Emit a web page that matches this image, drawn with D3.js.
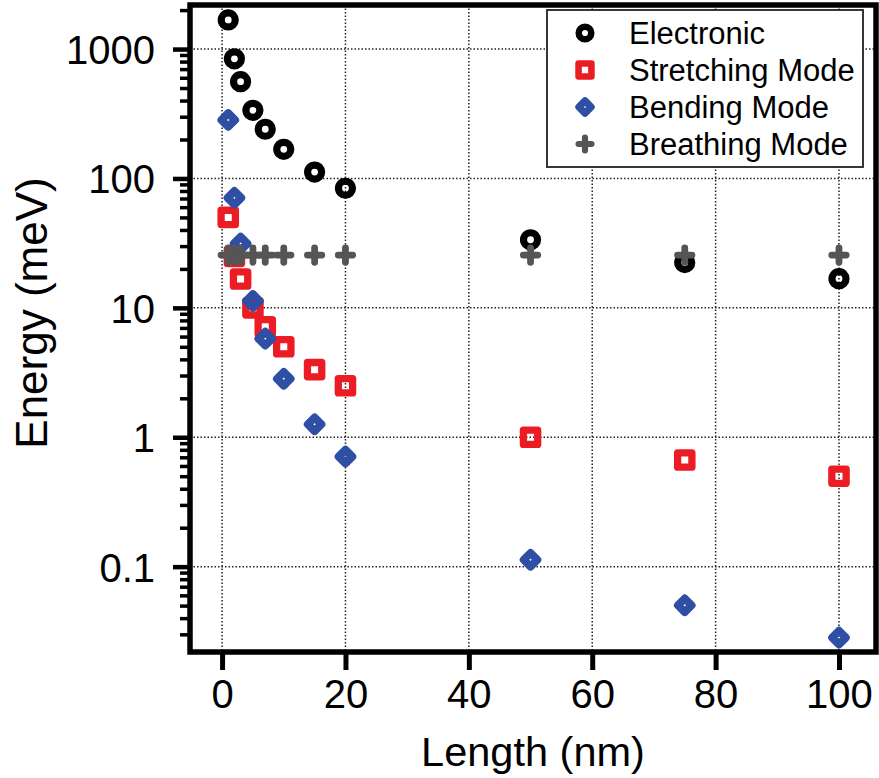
<!DOCTYPE html>
<html>
<head>
<meta charset="utf-8">
<script src="https://cdn.jsdelivr.net/npm/d3@7/dist/d3.min.js"></script>
<style>
  html, body { margin: 0; padding: 0; background: #fff; }
  svg { display: block; font-family: "Liberation Sans", Arial, sans-serif; }
</style>
</head>
<body>
<div id="chart"></div>
<script>
// lengths (nm) and energies (meV) for each mode
const lengths     = [1, 2, 3, 5, 7, 10, 15, 20, 50, 75, 100];
const electronic  = [1680, 840, 560, 336, 240, 168, 112, 84, 33.6, 22.4, 16.8];
const stretching  = [50, 25, 16.7, 10, 7.14, 5, 3.33, 2.5, 1, 0.667, 0.5];
const bending     = [283, 70.8, 31.4, 11.3, 5.78, 2.83, 1.26, 0.708, 0.113, 0.0503, 0.0283];
const breathing   = [25.6, 25.6, 25.6, 25.6, 25.6, 25.6, 25.6, 25.6, 25.6, 25.6, 25.6];

const seriesNames = ["Electronic", "Stretching Mode", "Bending Mode", "Breathing Mode"];
const xTicks = [0, 20, 40, 60, 80, 100];
const yTicks = [0.1, 1, 10, 100, 1000];
const yTickLabels = ["0.1", "1", "10", "100", "1000"];

const W = 879, H = 778;
const plotL = 190, plotR = 876, plotT = 5, plotB = 652;

const RED = "#ec1c24", BLUE = "#2f4fa5", GRAY = "#555555";

const svg = d3.select("#chart").append("svg")
    .attr("width", W)
    .attr("height", H);

const x = d3.scaleLinear().domain([-5.2, 106]).range([plotL, plotR]);
const y = d3.scaleLog().domain([0.0219, 2190]).range([plotB, plotT]);

// dotted grid
const grid = svg.append("g").attr("class", "grid");
grid.selectAll(".gx").data(xTicks).enter().append("line")
    .attr("x1", d => x(d)).attr("x2", d => x(d))
    .attr("y1", plotT).attr("y2", plotB);
grid.selectAll(".gy").data(yTicks).enter().append("line")
    .attr("x1", plotL).attr("x2", plotR)
    .attr("y1", d => y(d)).attr("y2", d => y(d));
grid.selectAll("line")
    .attr("stroke", "#222")
    .attr("stroke-width", 1.5)
    .attr("stroke-dasharray", "1.5,2");

// minor ticks on the log axis
let minors = [];
for (let p = -2; p <= 3; p++) {
    for (let m = 2; m <= 9; m++) {
        const v = m * Math.pow(10, p);
        if (v > y.domain()[0] && v < y.domain()[1]) minors.push(v);
    }
}

const yMinor = d3.axisLeft(y).tickValues(minors).tickSize(10).tickFormat("");
svg.append("g")
    .attr("transform", "translate(" + plotL + ",0)")
    .call(yMinor)
    .call(g => g.select(".domain").remove())
    .call(g => g.selectAll("line").attr("stroke", "#000").attr("stroke-width", 3.5));

const yAxis = d3.axisLeft(y)
    .tickValues(yTicks)
    .tickSize(17)
    .tickPadding(18)
    .tickFormat((d, i) => yTickLabels[i]);
svg.append("g")
    .attr("transform", "translate(" + plotL + ",0)")
    .call(yAxis)
    .call(g => g.select(".domain").remove())
    .call(g => g.selectAll("line").attr("stroke", "#000").attr("stroke-width", 4.5))
    .call(g => g.selectAll("text")
        .attr("fill", "#000")
        .style("font-size", "40px")
        .attr("dy", "0.36em"));

const xAxis = d3.axisBottom(x)
    .tickValues(xTicks)
    .tickSize(18)
    .tickPadding(10)
    .tickFormat(d3.format("d"));
svg.append("g")
    .attr("transform", "translate(0," + plotB + ")")
    .call(xAxis)
    .call(g => g.select(".domain").remove())
    .call(g => g.selectAll("line").attr("stroke", "#000").attr("stroke-width", 5))
    .call(g => g.selectAll("text")
        .attr("fill", "#000")
        .style("font-size", "40px")
        .attr("dy", "0.71em"));

// frame
svg.append("rect")
    .attr("x", plotL).attr("y", plotT)
    .attr("width", plotR - plotL).attr("height", plotB - plotT)
    .attr("fill", "none")
    .attr("stroke", "#000")
    .attr("stroke-width", 5.5);

// marker drawers
function drawCircle(g, s) {
    g.append("circle").attr("r", 7 * s)
        .attr("fill", "none").attr("stroke", "#000").attr("stroke-width", 7.2 * s);
}
function drawSquare(g, s) {
    const a = 14.3 * s;
    g.append("rect").attr("x", -a / 2).attr("y", -a / 2).attr("width", a).attr("height", a)
        .attr("fill", "none").attr("stroke", RED).attr("stroke-width", 7.3 * s)
        .attr("stroke-linejoin", "round");
}
function drawDiamond(g, s) {
    const d = 6.8 * s;
    g.append("path").attr("d", "M0," + (-d) + "L" + d + ",0L0," + d + "L" + (-d) + ",0Z")
        .attr("fill", "none").attr("stroke", BLUE).attr("stroke-width", 8 * s)
        .attr("stroke-linejoin", "round");
}
function drawPlus(g, s) {
    const a = 7.2 * s;
    g.append("path").attr("d", "M" + (-a) + ",0H" + a + "M0," + (-a) + "V" + a)
        .attr("fill", "none").attr("stroke", GRAY).attr("stroke-width", 6.8 * s)
        .attr("stroke-linecap", "round");
}

const series = [
    { name: seriesNames[0], values: electronic, draw: drawCircle },
    { name: seriesNames[1], values: stretching, draw: drawSquare },
    { name: seriesNames[2], values: bending, draw: drawDiamond },
    { name: seriesNames[3], values: breathing, draw: drawPlus }
];

const plot = svg.append("g").attr("class", "points");
series.forEach(function (s) {
    plot.append("g")
        .selectAll("g")
        .data(s.values.map((v, i) => ({ len: lengths[i], e: v })))
        .enter()
        .append("g")
        .attr("transform", d => "translate(" + x(d.len) + "," + y(d.e) + ")")
        .each(function () { s.draw(d3.select(this), 1); });
});

// legend
const legend = svg.append("g").attr("class", "legend");
legend.append("rect")
    .attr("x", 547).attr("y", 10)
    .attr("width", 316).attr("height", 157)
    .attr("fill", "#fff")
    .attr("stroke", "#222")
    .attr("stroke-width", 1.8);

const rows = legend.selectAll(".row")
    .data(series)
    .enter()
    .append("g")
    .attr("class", "row")
    .attr("transform", (d, i) => "translate(585," + (33 + i * 37) + ")");
rows.each(function (d) { d.draw(d3.select(this), 0.9); });
rows.append("text")
    .attr("x", 44)
    .attr("dy", "0.36em")
    .text(d => d.name)
    .style("font-size", "31px")
    .attr("fill", "#000");

// axis titles
svg.append("text")
    .attr("x", (plotL + plotR) / 2)
    .attr("y", 766)
    .attr("text-anchor", "middle")
    .style("font-size", "41.5px")
    .text("Length (nm)");

svg.append("text")
    .attr("transform", "translate(47,313) rotate(-90)")
    .attr("text-anchor", "middle")
    .style("font-size", "44px")
    .text("Energy (meV)");
</script>
</body>
</html>
